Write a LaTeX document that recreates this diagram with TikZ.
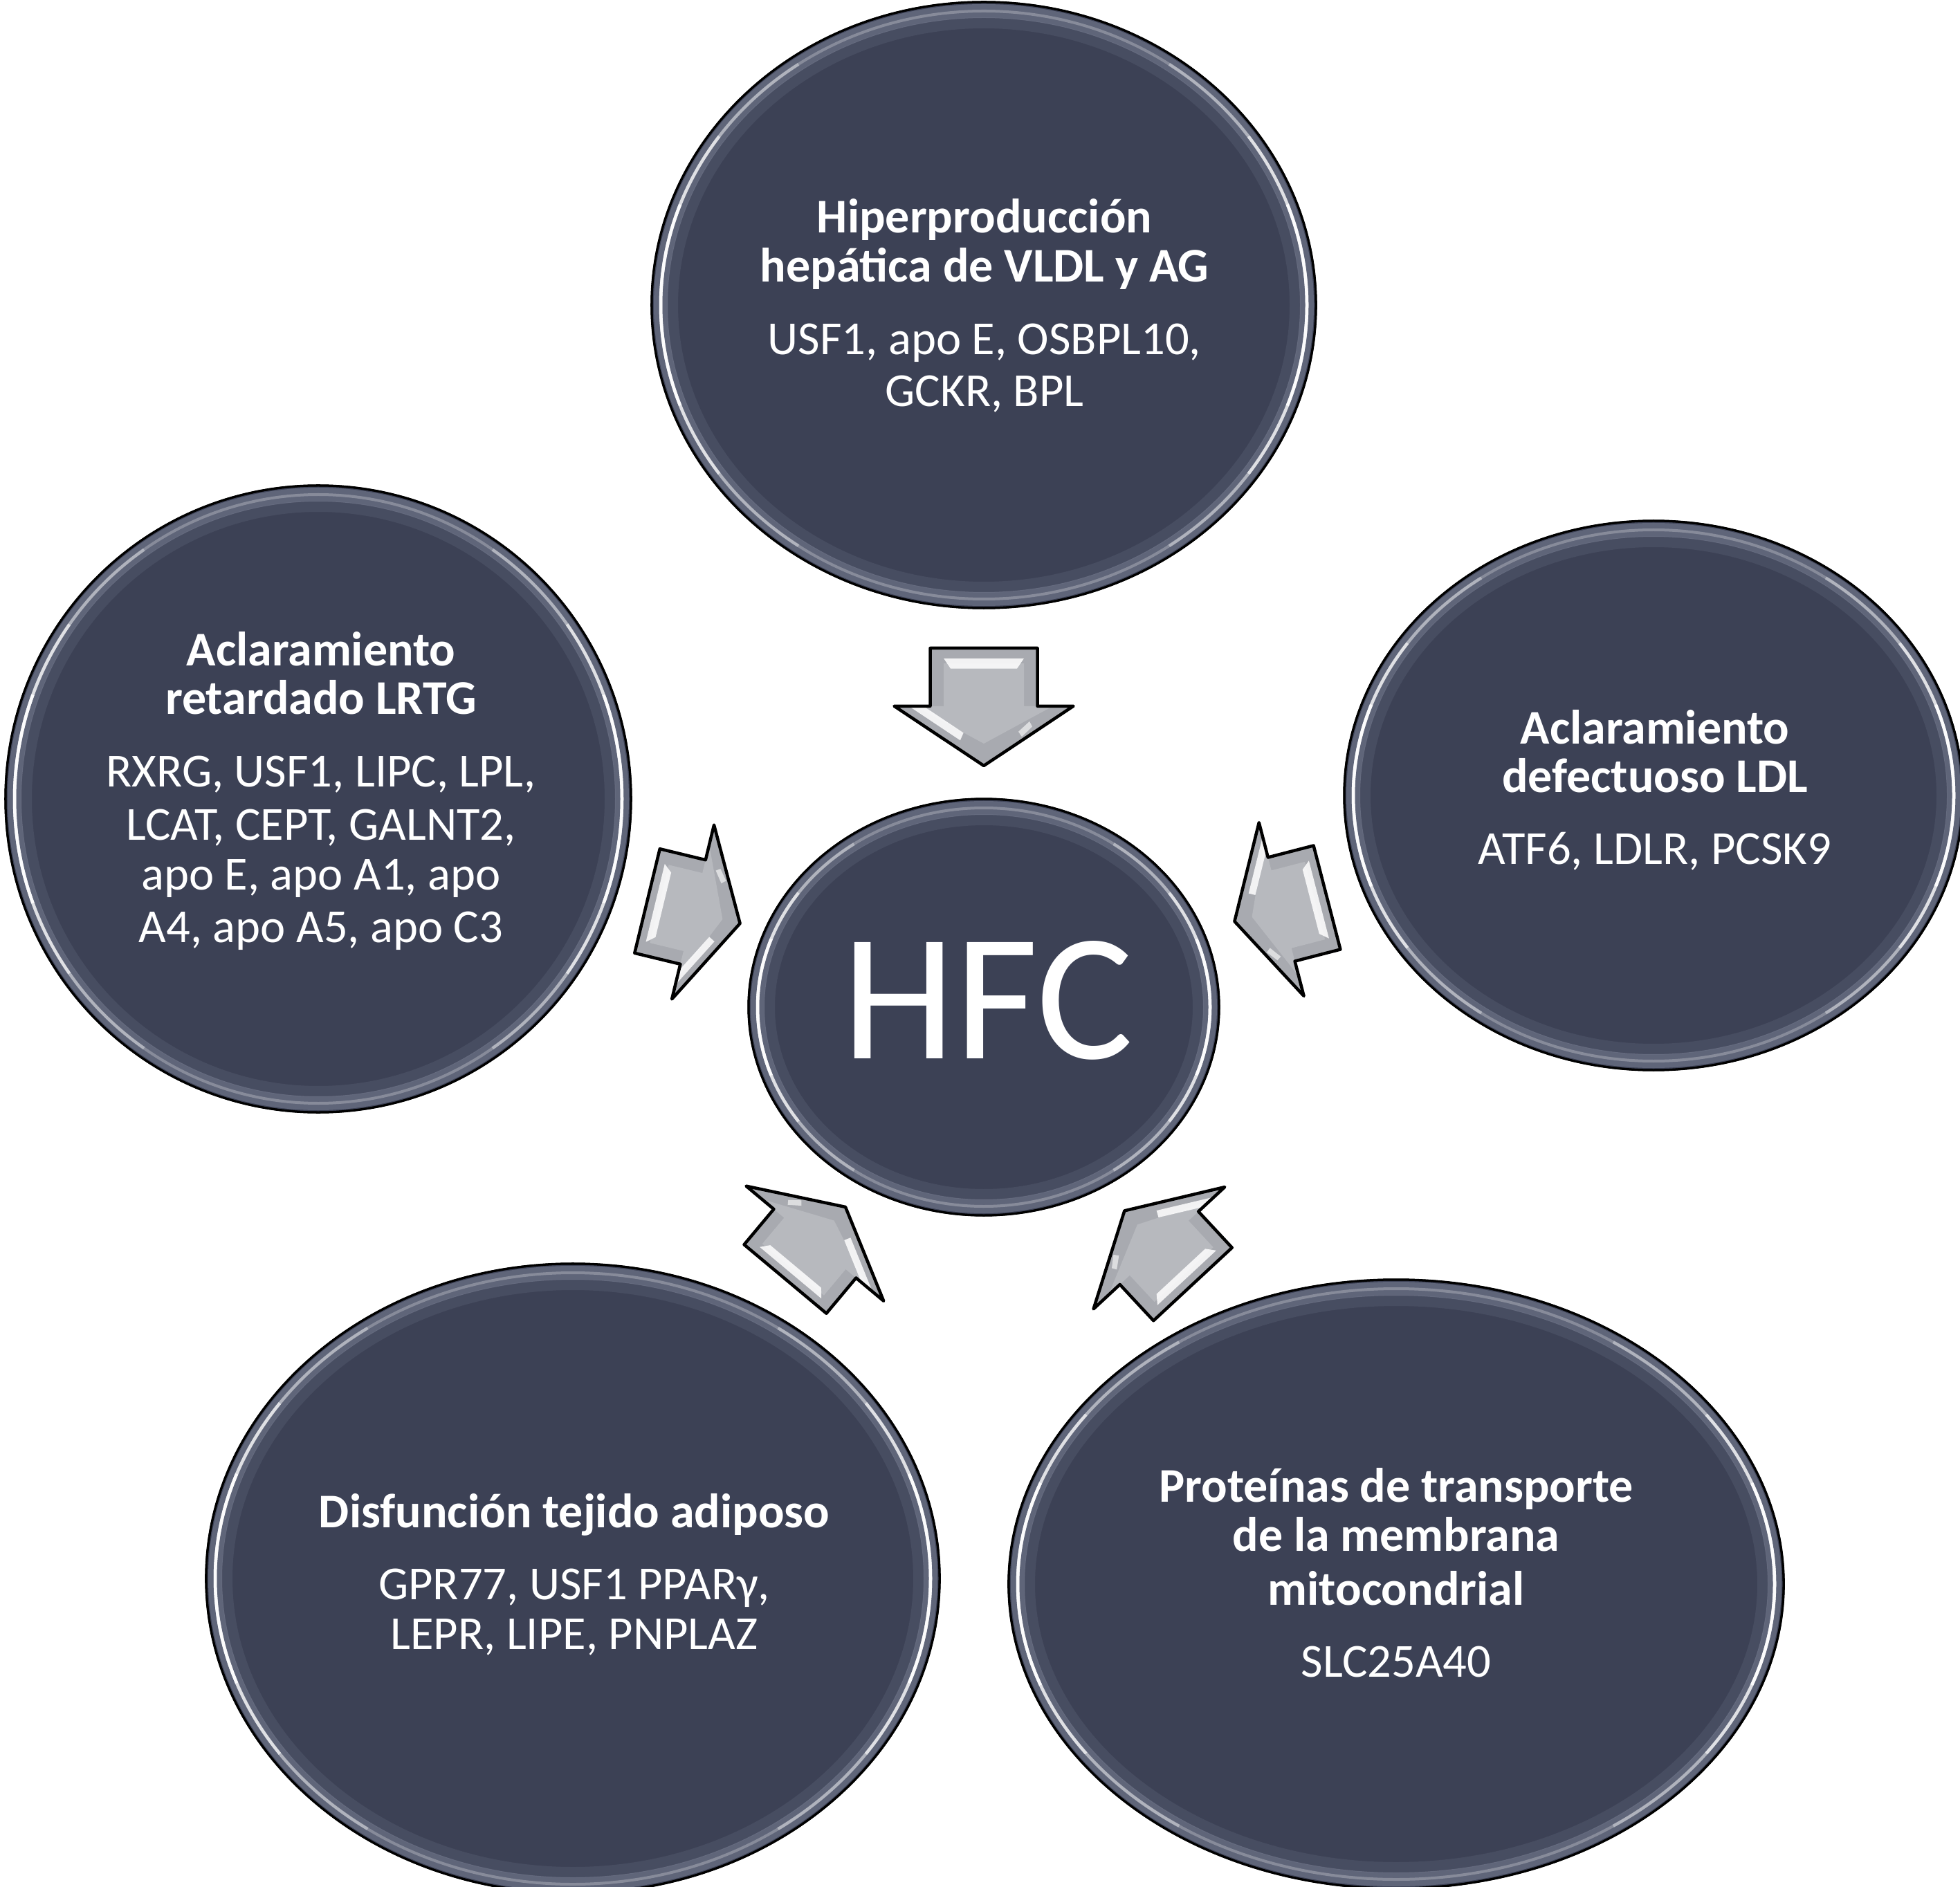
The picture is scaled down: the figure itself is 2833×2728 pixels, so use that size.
\documentclass[tikz,border=0pt]{standalone}
\usepackage{fontspec}
\setmainfont{Carlito}
\usetikzlibrary{shapes.geometric}
\definecolor{bub}{RGB}{60,65,85}
\definecolor{bubband}{RGB}{125,132,152}
\definecolor{arrfill}{RGB}{168,170,176}
\tikzset{
  bubble/.style={ellipse, fill=bub, draw=black, line width=0.03cm, inner sep=0pt, outer sep=0pt},
  ttl/.style={text=white, font=\fontsize{19.9}{20}\selectfont\bfseries, inner sep=0pt, anchor=base},
  body/.style={text=white, font=\fontsize{19.5}{20}\selectfont, inner sep=0pt, anchor=base},
  bigtxt/.style={text=white, font=\fontsize{74.5}{75}\selectfont, inner sep=0pt, anchor=base},
  hlite/.style={fill=white, opacity=0.85},
  pics/barrow/.style={code={
    \fill[arrfill] (0,77.5) -- (68,77.5) -- (68,129.5) -- (138,0) -- (68,-129.5) -- (68,-77.5) -- (0,-77.5) -- cycle;
    \fill[white, opacity=0.18] (18,58) -- (68,58) -- (68,100) -- (112,0) -- (68,-100) -- (68,-58) -- (18,-58) -- cycle;
    \fill[hlite] (12,58) -- (24,48) -- (24,-48) -- (12,-58) -- cycle;
    \fill[hlite] (69.7,105.3) -- (108.2,34.1) -- (99.4,29.4) -- (60.9,100.6) -- cycle;
    \fill[white, opacity=0.6] (92,-70) -- (104,-55) -- (98,-50) -- (86,-66) -- cycle;
    \draw[black, line width=0.045cm, line join=round] (0,77.5) -- (68,77.5) -- (68,129.5) -- (138,0) -- (68,-129.5) -- (68,-77.5) -- (0,-77.5) -- cycle;
    \coordinate (-tip) at (138,0);
  }}
}
\newcommand\glass[3]{%
  \pgfmathsetmacro\gra{#2-13}\pgfmathsetmacro\grb{#3-13}%
  \pgfmathsetmacro\grc{#2-30}\pgfmathsetmacro\grd{#3-30}%
  \draw[bubband, line width=0.2cm, opacity=0.55] (#1.center) ellipse[x radius=\gra, y radius=\grb];
  \draw[bubband, line width=0.16cm, opacity=0.18] (#1.center) ellipse[x radius=\grc, y radius=\grd];
  \draw[white, line width=0.04cm, opacity=0.25] (#1.center) ellipse[x radius=\gra, y radius=\grb];
  \foreach \sa/\sb/\op in {125/235/0.35, 145/215/0.6, 160/200/0.9, -55/55/0.35, -35/35/0.6, -20/20/0.9}{
    \draw[white, line width=0.045cm, opacity=\op] (#1.center) ++({\gra*cos(\sa)},{\grb*sin(\sa)}) arc[start angle=\sa, end angle=\sb, x radius=\gra, y radius=\grb];
  }
  \draw[black, line width=0.03cm] (#1.center) ellipse[x radius=#2, y radius=#3];
}
\begin{document}
\begin{tikzpicture}[x=0.01cm, y=-0.01cm]
\useasboundingbox (0,0) rectangle (2833,2728);
\clip (0,0) rectangle (2833,2728);
\fill[white] (0,0) rectangle (2833,2728);

% bubbles
\node[bubble, minimum width=9.6cm, minimum height=8.76cm] (top) at (1422,441) {};
\node[bubble, minimum width=9.04cm, minimum height=9.06cm] (left) at (460,1155) {};
\node[bubble, minimum width=8.94cm, minimum height=7.94cm] (right) at (2390,1150) {};
\node[bubble, minimum width=6.8cm, minimum height=6.02cm] (hfc) at (1422,1456) {};
\node[bubble, minimum width=10.6cm, minimum height=9.1cm] (bl) at (828,2282) {};
\node[bubble, minimum width=11.2cm, minimum height=8.8cm] (br) at (2018,2290) {};
\glass{top}{480}{438}
\glass{left}{452}{453}
\glass{right}{447}{397}
\glass{hfc}{340}{301}
\glass{bl}{530}{455}
\glass{br}{560}{440}

% arrows
\path (1422,937) pic[rotate=-90, xscale=1.232] (arT) {barrow};
\path (935.5,1302.5) pic[rotate=-13.6] (arL) {barrow};
\path (1918,1297.5) pic[rotate=194.5] (arR) {barrow};
\path (1135,1849) pic[rotate=50.1, xscale=0.983] (arBL) {barrow};
\path (1724,1856.5) pic[rotate=132.9, xscale=1.05] (arBR) {barrow};

% texts
\node[ttl] (top1) at (1423,337) {Hiperproducción};
\node[ttl] (top2) at (1423,408) {hepática de VLDL y AG};
\node[body] (top3) at (1423,513) {USF1, apo E, OSBPL10,};
\node[body] (top4) at (1423,588) {GCKR, BPL};

\node[ttl] (left1) at (464,962) {Aclaramiento};
\node[ttl] (left2) at (464,1033) {retardado LRTG};
\node[body] (left3) at (464,1137) {RXRG, USF1, LIPC, LPL,};
\node[body] (left4) at (464,1214) {LCAT, CEPT, GALNT2,};
\node[body] (left5) at (464,1286) {apo E, apo A1, apo};
\node[body] (left6) at (464,1362) {A4, apo A5, apo C3};

\node[ttl] (right1) at (2392,1075) {Aclaramiento};
\node[ttl] (right2) at (2392,1145) {defectuoso LDL};
\node[body] (right3) at (2392,1249) {ATF6, LDLR, PCSK9};

\node[bigtxt] (hfct) at (1428,1530) {HFC};

\node[ttl] (bl1) at (830,2208) {Disfunción tejido adiposo};
\node[body] (bl2) at (830,2312) {GPR77, USF1 PPARγ,};
\node[body] (bl3) at (830,2384) {LEPR, LIPE, PNPLAZ};

\node[ttl] (br1) at (2018,2171) {Proteínas de transporte};
\node[ttl] (br2) at (2018,2242) {de la membrana};
\node[ttl] (br3) at (2018,2320) {mitocondrial};
\node[body] (br4) at (2018,2424) {SLC25A40};
\end{tikzpicture}
\end{document}
